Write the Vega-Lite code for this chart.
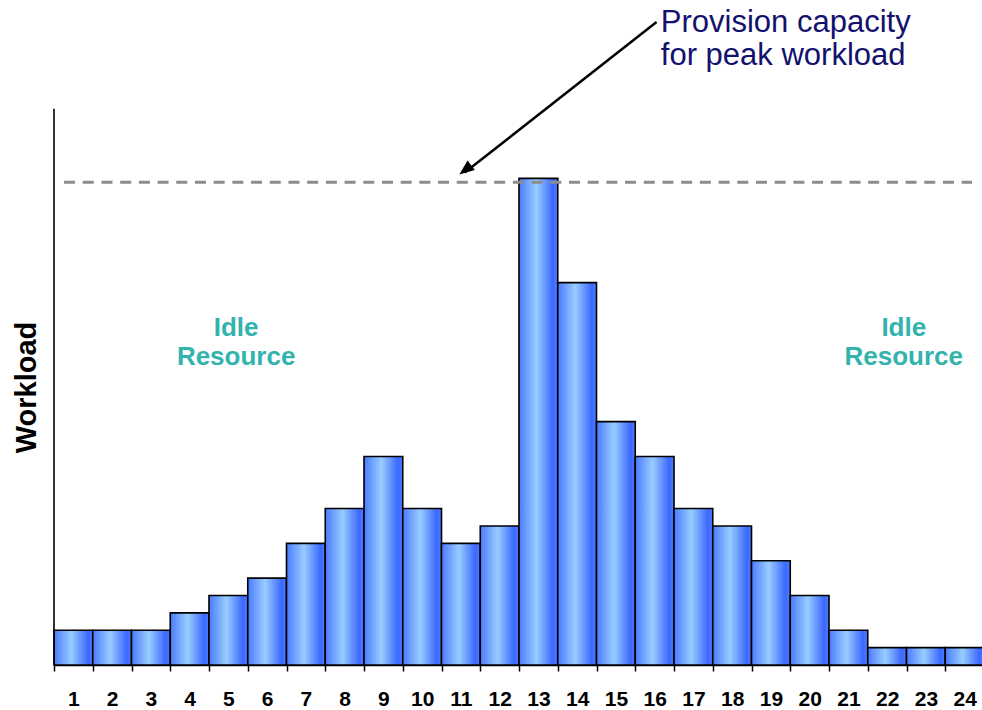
{
  "$schema": "https://vega.github.io/schema/vega-lite/v6.json",
  "width": 930,
  "height": 665,
  "autosize": {"type": "none"},
  "padding": {"left": 54, "top": 0, "right": 0, "bottom": 45},
  "config": {"view": {"stroke": null}, "font": "Liberation Sans"},
  "layer": [
    {
      "data": {"values": [
        {"hour": 1, "workload": 2}, {"hour": 2, "workload": 2}, {"hour": 3, "workload": 2},
        {"hour": 4, "workload": 3}, {"hour": 5, "workload": 4}, {"hour": 6, "workload": 5},
        {"hour": 7, "workload": 7}, {"hour": 8, "workload": 9}, {"hour": 9, "workload": 12},
        {"hour": 10, "workload": 9}, {"hour": 11, "workload": 7}, {"hour": 12, "workload": 8},
        {"hour": 13, "workload": 28}, {"hour": 14, "workload": 22}, {"hour": 15, "workload": 14},
        {"hour": 16, "workload": 12}, {"hour": 17, "workload": 9}, {"hour": 18, "workload": 8},
        {"hour": 19, "workload": 6}, {"hour": 20, "workload": 4}, {"hour": 21, "workload": 2},
        {"hour": 22, "workload": 1}, {"hour": 23, "workload": 1}, {"hour": 24, "workload": 1}
      ]},
      "mark": {
        "type": "bar",
        "stroke": "black",
        "strokeWidth": 1.6,
        "fill": {
          "gradient": "linear", "x1": 0, "y1": 0, "x2": 1, "y2": 0,
          "stops": [
            {"offset": 0, "color": "#4a7bff"},
            {"offset": 0.45, "color": "#99ccff"},
            {"offset": 0.88, "color": "#3b68ff"},
            {"offset": 1, "color": "#4f7fff"}
          ]
        }
      },
      "encoding": {
        "x": {
          "field": "hour", "type": "ordinal",
          "scale": {"paddingInner": 0, "paddingOuter": 0},
          "axis": {
            "title": null, "labelAngle": 0, "tickBand": "extent", "grid": false,
            "domainColor": "black", "domainWidth": 1.6,
            "tickColor": "black", "tickWidth": 1.5, "tickSize": 6,
            "labelFont": "Liberation Sans", "labelFontSize": 21, "labelFontWeight": "bold",
            "labelColor": "black", "labelBaseline": "alphabetic", "labelPadding": 34
          }
        },
        "y": {
          "field": "workload", "type": "quantitative",
          "scale": {"domain": [0, 38.26], "nice": false},
          "axis": {
            "title": "Workload", "domain": false, "ticks": false, "labels": false, "grid": false,
            "titleFont": "Liberation Sans", "titleFontSize": 29, "titleFontWeight": "bold",
            "titleColor": "black", "titleAngle": 270, "titleAlign": "center",
            "titleBaseline": "middle", "titleX": -28, "titleY": 387
          }
        }
      }
    },
    {
      "data": {"values": [{"name": "y axis"}]},
      "mark": {"type": "rule", "color": "black", "strokeWidth": 1.6},
      "encoding": {
        "x": {"datum": 0, "type": "quantitative", "scale": {"domain": [0, 24], "nice": false}, "axis": null},
        "y": {"datum": 0, "type": "quantitative"},
        "y2": {"datum": 32}
      }
    },
    {
      "data": {"values": [{"name": "capacity"}]},
      "mark": {"type": "rule", "color": "#8c8c8c", "strokeWidth": 3, "strokeDash": [11, 7.7]},
      "encoding": {
        "x": {"datum": 0.26, "type": "quantitative", "scale": {"domain": [0, 24], "nice": false}, "axis": null},
        "x2": {"datum": 23.69},
        "y": {"datum": 27.78, "type": "quantitative"}
      }
    },
    {
      "data": {"values": [{"name": "arrow"}]},
      "mark": {"type": "rule", "color": "black", "strokeWidth": 2.5},
      "encoding": {
        "x": {"datum": 15.55, "type": "quantitative", "scale": {"domain": [0, 24], "nice": false}, "axis": null},
        "x2": {"datum": 10.6},
        "y": {"datum": 37.0, "type": "quantitative"},
        "y2": {"datum": 28.33}
      }
    },
    {
      "data": {"values": [{"name": "arrowhead"}]},
      "mark": {"type": "point", "shape": "M0,0L-0.4,1L0.4,1Z", "filled": true, "color": "black", "opacity": 1, "size": 900, "angle": 232.3, "strokeWidth": 0},
      "encoding": {
        "x": {"datum": 10.46, "type": "quantitative", "scale": {"domain": [0, 24], "nice": false}, "axis": null},
        "y": {"datum": 28.22, "type": "quantitative"}
      }
    },
    {
      "data": {"values": [{"name": "annotation"}]},
      "mark": {"type": "text", "text": ["Provision capacity", "for peak workload"], "align": "left", "baseline": "alphabetic", "font": "Liberation Sans", "fontSize": 31, "lineHeight": 33.5, "color": "#12126e"},
      "encoding": {
        "x": {"datum": 15.66, "type": "quantitative", "scale": {"domain": [0, 24], "nice": false}, "axis": null},
        "y": {"datum": 36.43, "type": "quantitative"}
      }
    },
    {
      "data": {"values": [{"name": "idle left"}]},
      "mark": {"type": "text", "text": ["Idle", "Resource"], "align": "center", "baseline": "alphabetic", "font": "Liberation Sans", "fontSize": 26, "fontWeight": "bold", "lineHeight": 28.5, "color": "#33b3ae"},
      "encoding": {
        "x": {"datum": 4.70, "type": "quantitative", "scale": {"domain": [0, 24], "nice": false}, "axis": null},
        "y": {"datum": 18.9, "type": "quantitative"}
      }
    },
    {
      "data": {"values": [{"name": "idle right"}]},
      "mark": {"type": "text", "text": ["Idle", "Resource"], "align": "center", "baseline": "alphabetic", "font": "Liberation Sans", "fontSize": 26, "fontWeight": "bold", "lineHeight": 28.5, "color": "#33b3ae"},
      "encoding": {
        "x": {"datum": 21.93, "type": "quantitative", "scale": {"domain": [0, 24], "nice": false}, "axis": null},
        "y": {"datum": 18.9, "type": "quantitative"}
      }
    }
  ],
  "resolve": {"scale": {"x": "independent"}}
}
